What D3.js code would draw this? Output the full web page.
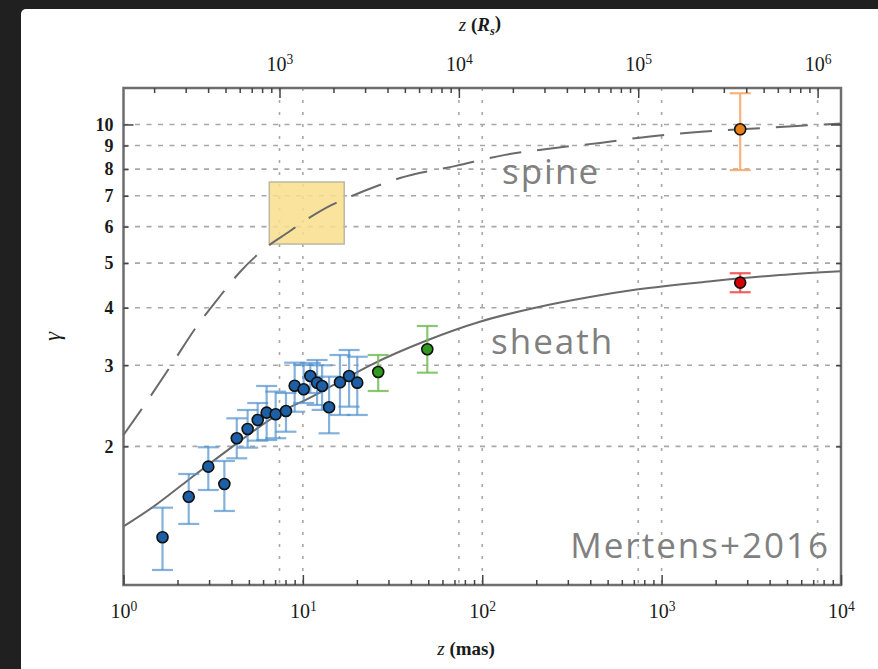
<!DOCTYPE html>
<html><head><meta charset="utf-8">
<script src="https://cdn.jsdelivr.net/npm/d3@7"></script>
<style>body{margin:0;background:#202020;} svg{display:block;}</style>
</head><body>
<svg id="c" width="878" height="669"></svg>
<script>
// ---------------- data ----------------
const blueZ  = [1.65, 2.31, 2.97, 3.65, 4.28, 4.92, 5.60, 6.28, 7.05, 8.05, 9.00, 10.1, 11.0, 12.0, 12.8, 14.0, 16.1, 18.1, 20.1];
const blueG  = [1.27, 1.555, 1.807, 1.657, 2.083, 2.182, 2.282, 2.367, 2.348, 2.387, 2.709, 2.661, 2.843, 2.75, 2.705, 2.432, 2.755, 2.843, 2.75];
const blueLo = [1.078, 1.357, 1.608, 1.448, 1.884, 1.987, 2.058, 2.065, 2.083, 2.152, 2.378, 2.484, 2.612, 2.46, 2.40, 2.135, 2.34, 2.439, 2.34];
const blueHi = [1.472, 1.742, 1.991, 1.859, 2.301, 2.399, 2.484, 2.705, 2.63, 2.612, 3.039, 3.004, 3.034, 3.08, 3.0, 2.834, 3.158, 3.238, 3.131];

const greenZ  = [26.3, 49.4];
const greenG  = [2.90, 3.25];
const greenLo = [2.638, 2.891];
const greenHi = [3.158, 3.651];

const orangeZ = [2742], orangeG = [9.76], orangeLo = [7.96], orangeHi = [11.69];
const redZ = [2742], redG = [4.535], redLo = [4.322], redHi = [4.753];

const spineZ = [1, 1.369, 1.863, 2.569, 3.32, 4.46, 5.99, 8.48, 10.0, 14.5, 17.6, 25.9, 34.8, 71.4, 134, 254, 453, 861, 1475, 2742, 6970, 10000];
const spineG = [2.117, 2.522, 3.019, 3.651, 4.157, 4.783, 5.34, 5.87, 6.14, 6.69, 6.92, 7.35, 7.65, 8.13, 8.59, 8.89, 9.12, 9.42, 9.61, 9.76, 9.97, 10.05];

const sheathZ = [1, 1.47, 2.25, 3.17, 4.28, 5.77, 8.12, 10.5, 15.4, 23.7, 49.4, 97, 192, 398, 725, 1939, 4564, 10000];
const sheathG = [1.34, 1.48, 1.68, 1.86, 2.03, 2.21, 2.41, 2.53, 2.74, 3.0, 3.40, 3.73, 3.99, 4.22, 4.38, 4.57, 4.71, 4.80];

const boxZ = [6.5, 17.0];   // mas range of shaded box
const boxG = [5.5, 7.5];    // gamma range of shaded box

const yTickVals = [2, 3, 4, 5, 6, 7, 8, 9, 10];
const xMajor = [1, 10, 100, 1000, 10000];
const xTopMajor = [1e3, 1e4, 1e5, 1e6];
const rsPerMas = 135;

// ---------------- layout ----------------
const svg = d3.select('#c');
const L = 123.5, R = 841, T = 88, B = 585;
const x = d3.scaleLog().domain([1, 1e4]).range([L, R]);
const xTop = d3.scaleLog().domain([rsPerMas, rsPerMas * 1e4]).range([L, R]);
const y = d3.scaleLog().domain([1, 12]).range([B, T]);

svg.append('rect').attr('width', 878).attr('height', 669).attr('fill', '#202020');
svg.append('rect').attr('x', 21).attr('y', 9).attr('width', 870).attr('height', 680).attr('rx', 5).attr('fill', '#fff');

const gridCol = '#a8a8a8';
svg.append('g').selectAll('line').data(yTickVals).join('line')
  .attr('x1', L).attr('x2', R).attr('y1', d => y(d)).attr('y2', d => y(d))
  .attr('stroke', gridCol).attr('stroke-width', 1.6).attr('stroke-dasharray', '5,6.5');
const vgrid = [10, 100, 1000].map(d => x(d)).concat(xTopMajor.map(d => xTop(d)));
svg.append('g').selectAll('line').data(vgrid).join('line')
  .attr('x1', d => d).attr('x2', d => d).attr('y1', T).attr('y2', B)
  .attr('stroke', gridCol).attr('stroke-width', 1.6).attr('stroke-dasharray', '3,9');

svg.append('rect')
  .attr('x', x(boxZ[0])).attr('y', y(boxG[1]))
  .attr('width', x(boxZ[1]) - x(boxZ[0])).attr('height', y(boxG[0]) - y(boxG[1]))
  .attr('fill', '#f9df8c').attr('fill-opacity', 0.85).attr('stroke', '#bdb8a0').attr('stroke-width', 1.5);

const line = d3.line().x(d => x(d[0])).y(d => y(d[1])).curve(d3.curveMonotoneX);
svg.append('path').datum(spineZ.map((z, i) => [z, spineG[i]])).attr('d', line)
  .attr('fill', 'none').attr('stroke', '#6a6a6a').attr('stroke-width', 2).attr('stroke-dasharray', '32,16');
svg.append('path').datum(sheathZ.map((z, i) => [z, sheathG[i]])).attr('d', line)
  .attr('fill', 'none').attr('stroke', '#6a6a6a').attr('stroke-width', 2);

function series(Z, G, Lo, Hi, fill, errCol, cap) {
  const g = svg.append('g');
  const d = Z.map((z, i) => ({z, g: G[i], lo: Lo[i], hi: Hi[i]}));
  g.selectAll('.v').data(d).join('line')
    .attr('x1', v => x(v.z)).attr('x2', v => x(v.z)).attr('y1', v => y(v.lo)).attr('y2', v => y(v.hi))
    .attr('stroke', errCol).attr('stroke-width', 2.2);
  ['lo', 'hi'].forEach(k => {
    g.selectAll('.c' + k).data(d).join('line')
      .attr('x1', v => x(v.z) - cap).attr('x2', v => x(v.z) + cap).attr('y1', v => y(v[k])).attr('y2', v => y(v[k]))
      .attr('stroke', errCol).attr('stroke-width', 2.2);
  });
  return {g, d, fill};
}
const sets = [
  series(blueZ, blueG, blueLo, blueHi, '#1d5fa6', 'rgba(80,145,205,0.7)', 10.5),
  series(greenZ, greenG, greenLo, greenHi, '#2f9a1f', 'rgba(110,185,80,0.8)', 10.5),
  series(orangeZ, orangeG, orangeLo, orangeHi, '#e8801a', 'rgba(248,170,110,0.9)', 10.5),
  series(redZ, redG, redLo, redHi, '#d40000', 'rgba(240,80,80,0.9)', 10.5)
];
sets.forEach(s => {
  s.g.selectAll('circle').data(s.d).join('circle')
    .attr('cx', v => x(v.z)).attr('cy', v => y(v.g)).attr('r', 5.5)
    .attr('fill', s.fill).attr('stroke', '#111').attr('stroke-width', 1.6);
});

svg.append('rect').attr('x', L).attr('y', T).attr('width', R - L).attr('height', B - T)
  .attr('fill', 'none').attr('stroke', '#6e6e6e').attr('stroke-width', 2.5);

function minors(lo, hi) {
  const out = [];
  for (let e = Math.floor(Math.log10(lo)); e <= Math.ceil(Math.log10(hi)); e++)
    for (let m = 2; m <= 9; m++) { const v = m * Math.pow(10, e); if (v > lo && v < hi) out.push(v); }
  return out;
}
const tickCol = '#444';
function supLabel(sel) {
  sel.selectAll('.tick text').each(function (d) {
    const t = d3.select(this); t.text('');
    t.append('tspan').text('10');
    t.append('tspan').attr('dy', '-0.5em').attr('font-size', '68%').text(Math.round(Math.log10(d)));
  });
}
const serif = "'Liberation Serif','DejaVu Serif',serif";

const gb = svg.append('g').attr('transform', `translate(0,${B})`);
gb.call(d3.axisBottom(x).tickValues(xMajor).tickSizeInner(-10).tickSizeOuter(0).tickPadding(19));
gb.call(supLabel);
const gbm = svg.append('g').attr('transform', `translate(0,${B})`);
gbm.call(d3.axisBottom(x).tickValues(minors(1, 1e4)).tickSizeInner(-5).tickSizeOuter(0).tickFormat(''));

const gt = svg.append('g').attr('transform', `translate(0,${T})`);
gt.call(d3.axisTop(xTop).tickValues(xTopMajor).tickSizeInner(-10).tickSizeOuter(0).tickPadding(17));
gt.call(supLabel);
const gtm = svg.append('g').attr('transform', `translate(0,${T})`);
gtm.call(d3.axisTop(xTop).tickValues(minors(rsPerMas, rsPerMas * 1e4)).tickSizeInner(-5).tickSizeOuter(0).tickFormat(''));

const gl = svg.append('g').attr('transform', `translate(${L},0)`);
gl.call(d3.axisLeft(y).tickValues(yTickVals).tickSizeInner(0).tickSizeOuter(0).tickPadding(10).tickFormat(d3.format('d')));
gl.selectAll('.tick').append('line').attr('x2', d => d === 10 ? 10 : 5).attr('stroke', tickCol).attr('stroke-width', 1.5);
const gr = svg.append('g').attr('transform', `translate(${R},0)`);
gr.call(d3.axisRight(y).tickValues(yTickVals).tickSizeInner(0).tickSizeOuter(0).tickFormat(''));
gr.selectAll('.tick').append('line').attr('x2', d => d === 10 ? -10 : -5).attr('stroke', tickCol).attr('stroke-width', 1.5);

svg.selectAll('.domain').remove();
svg.selectAll('.tick line').attr('stroke', tickCol).attr('stroke-width', 1.5);
svg.selectAll('.tick text').attr('fill', '#1a1a1a').attr('font-family', serif).attr('font-size', 20);
gl.selectAll('.tick text').attr('font-weight', 'bold').attr('font-size', 18);

const t1 = svg.append('text').attr('x', 466).attr('y', 655).attr('text-anchor', 'middle')
  .attr('font-family', serif).attr('font-size', 19).attr('font-weight', 'bold').attr('fill', '#1a1a1a');
t1.append('tspan').attr('font-style', 'italic').attr('font-weight', 'normal').text('z');
t1.append('tspan').text(' (mas)');
const t2 = svg.append('text').attr('x', 480).attr('y', 31).attr('text-anchor', 'middle')
  .attr('font-family', serif).attr('font-size', 19).attr('font-weight', 'bold').attr('fill', '#1a1a1a');
t2.append('tspan').attr('font-style', 'italic').attr('font-weight', 'normal').text('z');
t2.append('tspan').text(' (');
t2.append('tspan').attr('font-style', 'italic').text('R');
t2.append('tspan').attr('font-style', 'italic').attr('font-size', '65%').attr('dy', '0.3em').text('s');
t2.append('tspan').attr('dy', '-0.3em').text(')');
svg.append('text').attr('transform', `translate(60,${(T + B) / 2}) rotate(-90)`).attr('text-anchor', 'middle')
  .attr('font-family', serif).attr('font-style', 'italic').attr('font-size', 23).attr('fill', '#1a1a1a').text('γ');

const ann = {fill: '#808080', 'font-family': "'Open Sans','Lato',sans-serif", 'font-size': 35, 'letter-spacing': 2};
function annText(txt, xx, yy, anchor) {
  const t = svg.append('text').attr('x', xx).attr('y', yy).attr('text-anchor', anchor).text(txt);
  Object.entries(ann).forEach(([k, v]) => t.attr(k, v));
}
annText('spine', 502, 184, 'start');
annText('sheath', 491, 354, 'start');
annText('Mertens+2016', 830, 558, 'end');
</script>
</body></html>
